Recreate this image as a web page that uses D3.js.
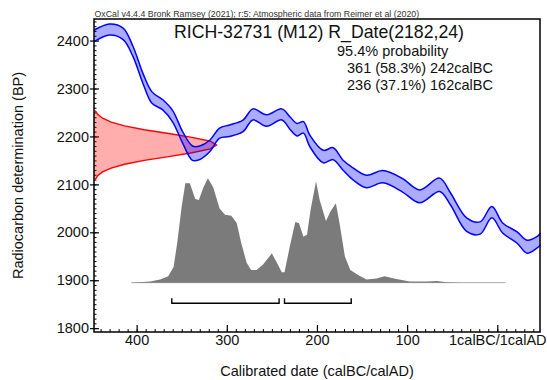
<!DOCTYPE html>
<html>
<head>
<meta charset="utf-8">
<script src="https://cdn.jsdelivr.net/npm/d3@7"></script>
<style>
body { margin: 0; background: #fff; }
svg { font-family: "Liberation Sans", Arial, sans-serif; }
</style>
</head>
<body>
<div id="chart"></div>
<script>
// ========== DATA =======================
// calibration curve: calBC year, radiocarbon age BP, 1 sigma
var curveYears = [447, 430, 415, 404, 393, 383, 371, 360, 349, 338, 330, 319, 308, 297, 282, 271, 256, 239, 230, 222, 215, 208, 193, 182, 171, 160, 145, 127, 105, 86, 64, 52, 34, 19, 6, -6, -22, -33, -44, -48];
var curveBP = [2410, 2423, 2414, 2377, 2321, 2281, 2266, 2242, 2198, 2165, 2166, 2180, 2207, 2212, 2222, 2246, 2233, 2246, 2228, 2214, 2219, 2191, 2158, 2164, 2140, 2122, 2106, 2116, 2098, 2075, 2099, 2070, 2016, 2009, 2042, 2009, 1989, 1970, 1979, 1986];
var curveSigma = [12, 11.5, 12, 10.5, 10.5, 12, 10.5, 12, 12, 15, 14, 12, 10.5, 12, 12, 11.5, 12, 11.5, 13, 13, 12, 12, 13, 12.5, 10.5, 12.5, 13, 12.8, 14, 13.5, 14, 12.5, 14, 12.8, 11.8, 10.5, 11.8, 13.5, 11.8, 12.5];

// measurement R_Date(2182,24): BP and relative likelihood
var likeBP = [2254, 2246, 2238, 2230, 2222, 2214, 2206, 2198, 2190, 2182, 2174, 2166, 2158, 2150, 2142, 2134, 2126, 2118, 2110];
var likeDensity = [0.01, 0.03, 0.07, 0.14, 0.25, 0.41, 0.61, 0.8, 0.95, 1, 0.95, 0.8, 0.61, 0.41, 0.25, 0.14, 0.07, 0.03, 0.01];

// calibrated date: calBC year and relative probability
var postYears = [406, 385, 374, 365, 359, 355, 350, 346, 341, 335, 331, 326, 321, 315, 308, 302, 295, 289, 284, 278, 273, 267, 260, 250, 245, 239, 236, 230, 224, 220, 215, 211, 207, 201, 197, 190, 185, 179, 175, 169, 163, 154, 145, 134, 125, 112, 97, 78, 67, 56, 41, -9];
var postDensity = [0, 0.01, 0.03, 0.06, 0.15, 0.38, 0.73, 0.95, 0.95, 0.8, 0.79, 0.91, 1, 0.91, 0.71, 0.65, 0.64, 0.57, 0.38, 0.19, 0.12, 0.12, 0.17, 0.28, 0.2, 0.1, 0.1, 0.35, 0.58, 0.57, 0.44, 0.46, 0.7, 0.97, 0.79, 0.59, 0.68, 0.76, 0.57, 0.25, 0.12, 0.07, 0.03, 0.04, 0.06, 0.035, 0.01, 0.01, 0.016, 0.004, 0, 0];

// 95.4% ranges
var rangeFrom = [361, 236];
var rangeTo = [242, 162];
var rangeLabels = ["361 (58.3%) 242calBC", "236 (37.1%) 162calBC"];

var xTicks = [400, 300, 200, 100, 0];
var yTicks = [1800, 1900, 2000, 2100, 2200, 2300, 2400];

// ========== CHART SETUP =======================
var svgWidth = 547;
var svgHeight = 380;
var margin = {top: 19, right: 7, bottom: 48, left: 94};
var width = svgWidth - margin.left - margin.right;
var height = svgHeight - margin.top - margin.bottom;

var svg = d3.select("#chart").append("svg").attr("width", svgWidth).attr("height", svgHeight);
svg.append("rect").attr("width", svgWidth).attr("height", svgHeight).attr("fill", "#fff");
var chartGroup = svg.append("g").attr("transform", `translate(${margin.left}, ${margin.top})`);

// ========== SCALES =======================
var xScale = d3.scaleLinear().domain([447.3, -47.4]).range([0, width]);
var yScale = d3.scaleLinear().domain([1792, 2445]).range([height, 0]);
var likeScale = d3.scaleLinear().domain([0, 1]).range([0, 122.5]);
var postBase = yScale(1895);
var postScale = d3.scaleLinear().domain([0, 1]).range([postBase, postBase - 104.5]);

// ========== AXES =======================
var fs = "14.5px";
var yAxis = d3.axisLeft(yScale).tickValues(yTicks).tickSize(-5).tickPadding(5).tickFormat(d => d);
var yG = chartGroup.append("g").call(yAxis);
yG.select(".domain").remove();
yG.selectAll("text").attr("font-size", fs).attr("font-family", null).attr("fill", "#111");
yG.selectAll("line").attr("stroke", "#000").attr("stroke-width", 1.2);

var yOut = chartGroup.append("g").call(d3.axisLeft(yScale).tickValues(yTicks).tickSize(4).tickFormat(""));
yOut.select(".domain").remove();
yOut.selectAll("line").attr("stroke", "#000").attr("stroke-width", 1.2);

var yMinor = chartGroup.append("g").call(d3.axisLeft(yScale).tickValues(d3.range(1800, 2441, 10)).tickSize(-2.5).tickFormat(""));
yMinor.select(".domain").remove();
yMinor.selectAll("line").attr("stroke", "#000").attr("stroke-width", 1);

var xAxis = d3.axisBottom(xScale).tickValues(xTicks).tickSize(-7).tickPadding(3)
  .tickFormat(d => d === 0 ? "1calBC/1calAD" : d);
var xG = chartGroup.append("g").attr("transform", `translate(0, ${height})`).call(xAxis);
xG.select(".domain").remove();
xG.selectAll("text").attr("font-size", fs).attr("font-family", null).attr("fill", "#111");
xG.selectAll("line").attr("stroke", "#000").attr("stroke-width", 1.2);

var xMinor = chartGroup.append("g").attr("transform", `translate(0, ${height})`)
  .call(d3.axisBottom(xScale).tickValues(d3.range(440, -41, -10)).tickSize(-3).tickFormat(""));
xMinor.select(".domain").remove();
xMinor.selectAll("line").attr("stroke", "#000").attr("stroke-width", 1);

// ========== MEASUREMENT (red) =======================
var likeData = likeBP.map((d, i) => ({bp: d, p: likeDensity[i]}));
var likeArea = d3.area()
  .y(d => yScale(d.bp))
  .x0(likeScale(0))
  .x1(d => likeScale(d.p));
chartGroup.append("path").datum(likeData)
  .attr("d", likeArea)
  .attr("fill", "rgba(255,0,0,0.32)")
  .attr("stroke", "none");
chartGroup.append("path").datum(likeData)
  .attr("d", d3.line().y(d => yScale(d.bp)).x(d => likeScale(d.p)))
  .attr("fill", "none")
  .attr("stroke", "#ff0000")
  .attr("stroke-width", 1.4);

// ========== CALIBRATION CURVE (blue) =======================
var curveData = curveYears.map((d, i) => ({yr: d, bp: curveBP[i], s: curveSigma[i]}));
var curveType = d3.curveCatmullRom.alpha(0.5);
chartGroup.append("path").datum(curveData)
  .attr("d", d3.area().curve(curveType).x(d => xScale(d.yr)).y0(d => yScale(d.bp - d.s)).y1(d => yScale(d.bp + d.s)))
  .attr("fill", "rgba(0,0,255,0.33)");
[-1, 1].forEach(function(sign) {
  chartGroup.append("path").datum(curveData)
    .attr("d", d3.line().curve(curveType).x(d => xScale(d.yr)).y(d => yScale(d.bp + sign * d.s)))
    .attr("fill", "none")
    .attr("stroke", "#0000ff")
    .attr("stroke-width", 1.5);
});

// ========== CALIBRATED DISTRIBUTION (grey) =======================
var postData = postYears.map((d, i) => ({yr: d, p: postDensity[i]}));
chartGroup.append("line")
  .attr("x1", xScale(postYears[0])).attr("x2", xScale(postYears[postYears.length - 1]))
  .attr("y1", postBase).attr("y2", postBase)
  .attr("stroke", "#aaa").attr("stroke-width", 1);
chartGroup.append("path").datum(postData)
  .attr("d", d3.area().x(d => xScale(d.yr)).y0(postBase).y1(d => postScale(d.p)))
  .attr("fill", "#7b7b7b");

// ========== RANGE BRACKETS =======================
var bracketY = yScale(1852);
rangeFrom.forEach(function(a, i) {
  var x1 = xScale(a), x2 = xScale(rangeTo[i]);
  chartGroup.append("path")
    .attr("d", `M${x1},${bracketY - 5}V${bracketY}H${x2}V${bracketY - 5}`)
    .attr("fill", "none")
    .attr("stroke", "#000")
    .attr("stroke-width", 1.4);
});

// ========== FRAME =======================
chartGroup.append("rect")
  .attr("width", width).attr("height", height)
  .attr("fill", "none").attr("stroke", "#000").attr("stroke-width", 1.5);

// ========== TEXTS =======================
svg.append("text")
  .attr("x", 94.5).attr("y", 16.5)
  .attr("font-size", "8.8px").attr("fill", "#333")
  .text("OxCal v4.4.4 Bronk Ramsey (2021); r:5: Atmospheric data from Reimer et al (2020)");

svg.append("text")
  .attr("x", 319).attr("y", 37.5)
  .attr("text-anchor", "middle").attr("font-size", "17.7px").attr("fill", "#111")
  .text("RICH-32731 (M12) R_Date(2182,24)");

svg.append("text")
  .attr("x", 337).attr("y", 56)
  .attr("font-size", fs).attr("fill", "#111")
  .text("95.4% probability");

svg.selectAll(".rangeText").data(rangeLabels).enter().append("text")
  .attr("class", "rangeText")
  .attr("x", 347).attr("y", (d, i) => 73 + i * 16.5)
  .attr("font-size", fs).attr("fill", "#111")
  .text(d => d);

svg.append("text")
  .attr("transform", `translate(${margin.left + width / 2}, 376)`)
  .attr("text-anchor", "middle").attr("font-size", fs).attr("fill", "#111")
  .text("Calibrated date (calBC/calAD)");

svg.append("text")
  .attr("transform", `translate(23, ${margin.top + height / 2}) rotate(-90)`)
  .attr("text-anchor", "middle").attr("font-size", fs).attr("fill", "#111")
  .text("Radiocarbon determination (BP)");
</script>
</body>
</html>
